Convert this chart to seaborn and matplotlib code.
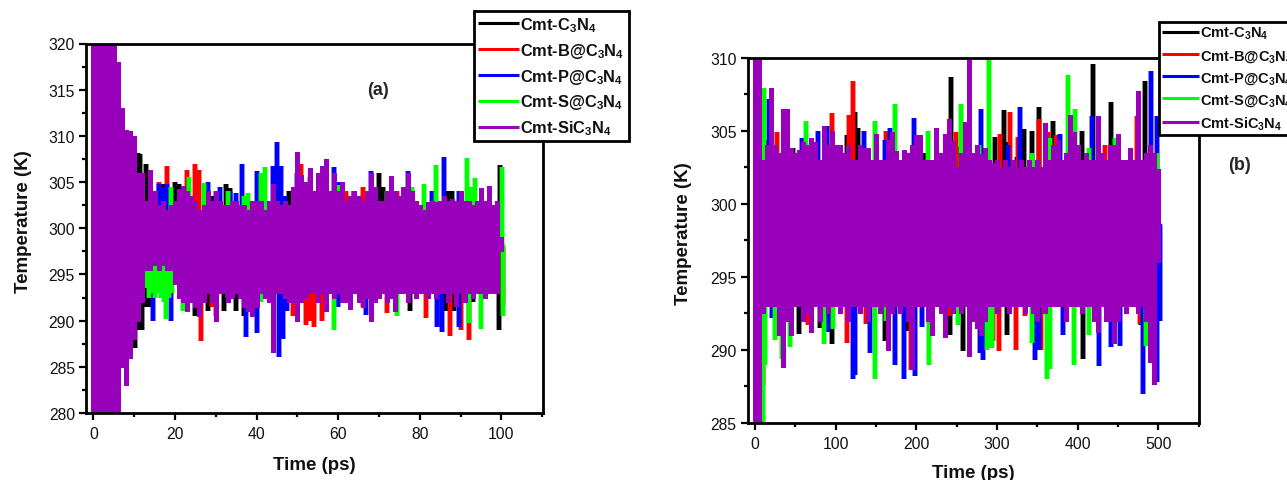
import numpy as np
import matplotlib
matplotlib.use("Agg")
import matplotlib.pyplot as plt
import seaborn as sns
from matplotlib.ticker import MultipleLocator

sns.set_theme(style="ticks")
plt.rcParams['font.family'] = ['Liberation Sans', 'DejaVu Sans']
plt.rcParams['mathtext.fontset'] = 'custom'
plt.rcParams['mathtext.bf'] = 'Liberation Sans:bold'
plt.rcParams['mathtext.default'] = 'bf'

W, H = 1287, 481

labels = ["Cmt-C$_3$N$_4$", "Cmt-B@C$_3$N$_4$", "Cmt-P@C$_3$N$_4$", "Cmt-S@C$_3$N$_4$", "Cmt-SiC$_3$N$_4$"]
colors = ["#000000", "#ff0000", "#0000ff", "#00ff00", "#9900bb"]

# panel (a), only the excursions that stick out of the purple band
a_black_t = [10, 10.7, 11, 11.5, 12, 13, 17, 20, 21, 29, 32.5, 33.5, 48, 70, 71, 87, 88, 99.7, 10.2, 11, 12, 13, 14, 25, 28, 32, 35, 37, 47, 77.7, 86.5, 88.5, 93, 99.5]
a_black_T = [308, 307.5, 308.2, 308, 306, 307, 304.8, 305, 304.8, 303.5, 304.8, 304.4, 304, 306, 304.5, 304, 304, 306.8, 287, 289, 289, 291.5, 291.5, 290.5, 291, 291, 291, 290.5, 291.5, 291, 291, 291, 292, 289]
a_red_t = [16, 18, 23, 25, 26, 51, 53, 60, 62, 64, 66, 74.5, 26.5, 29, 30, 49, 52, 53, 54, 56, 66, 72, 81.5, 87.5, 90, 92, 100.3]
a_red_T = [305, 306.7, 306.3, 307, 306.3, 307, 305.5, 304.5, 304, 304, 304.5, 304, 287.8, 291.5, 290.5, 290.5, 289.5, 290, 289.3, 290, 291.5, 290.8, 290.3, 288.3, 289, 287.9, 291.7]
a_blue_t = [16, 17, 18, 28, 30, 31, 33.5, 35, 36.5, 40, 44, 45, 46, 47, 50, 59, 60, 64, 68, 77, 83, 86, 89.5, 14.5, 19, 37.5, 40, 45.5, 46.5, 47.5, 60, 66.8, 84.3, 85.4, 89.6]
a_blue_T = [304.8, 304.5, 304.8, 305, 304, 304.5, 304, 303.8, 307, 306.2, 306.7, 309.3, 306.7, 303.5, 306, 306.6, 305, 304, 306.2, 306.2, 304, 307.7, 304, 290, 290, 288.2, 288.7, 286.1, 288, 291, 291.5, 290.6, 289.3, 288.8, 289.3]
a_green_t = [19, 23.5, 27, 33, 37, 38, 41, 42, 60, 72, 78, 81, 84, 91.6, 92.5, 93.5, 100.2, 13, 13.7, 14.4, 15.1, 15.8, 16.5, 17.2, 17.8, 18.5, 19.2, 22, 26, 33, 41, 59, 74.5, 92, 95, 100.3]
a_green_T = [304.5, 305.6, 304.9, 304, 303.5, 303.8, 306, 306.6, 304.7, 304, 304.5, 304.8, 306.9, 307.6, 304.5, 305.4, 306.6, 293.5, 292.5, 293, 292.5, 293, 292.5, 292, 290.2, 292.5, 293, 291, 292, 292.5, 292, 289, 290.5, 289.7, 289.1, 290.5]

a_time = list(range(0, 101))
a_si_hi = [330, 330, 330, 330, 330, 330, 318, 313, 310.6, 310.5,
           310, 306, 306, 303, 306.3, 304, 302.5, 303, 302, 302.5,
           303, 304.3, 304.6, 304, 303.5, 303, 302, 302.5, 304, 303,
           304, 303, 302.5, 302.5, 303, 303, 302.5, 302.5, 302, 303,
           303, 303, 302, 303, 304.8, 303, 302.5, 303, 302.5, 304.5,
           308.3, 305.8, 305, 306.5, 304, 306, 306.7, 307.5, 304, 306,
           304, 305, 303, 303.5, 304, 303.5, 303, 304, 306, 304.5,
           303, 303, 304, 305.7, 304, 303.5, 304.5, 306, 304, 303,
           302.5, 302, 302.8, 303, 302.8, 303, 303.5, 303, 303.2, 303,
           304, 303, 303, 302.5, 303, 304.4, 303, 304.6, 302.5, 303,
           299]
a_si_lo = [270, 270, 270, 270, 270, 270, 270, 285, 283, 286,
           288, 290, 292, 295.5, 295.5, 296, 295.5, 296, 295.5, 295.5,
           294, 292.5, 292, 291, 292, 291.5, 290.5, 292, 293, 292,
           290, 293, 293, 292, 292.5, 293, 292.5, 291.5, 291, 290.5,
           291.5, 293, 292.5, 292, 286.6, 293, 293, 292.5, 292, 292,
           290, 292, 292.5, 293, 293, 292, 293, 291, 293, 292.5,
           293, 292, 292, 291.3, 293, 292, 291.5, 292.5, 290, 292,
           292.5, 293, 292, 292.5, 291, 293, 293, 292, 293, 292.5,
           293, 293, 292.5, 293, 292.5, 293, 293, 292, 293, 291.6,
           293, 292, 293, 292.5, 293, 293, 292.5, 293, 293, 293,
           297.5]

# panel (b)
b_black_t = [13, 26, 47, 114, 124, 128, 209, 233, 242.6, 250, 297, 309, 312.5, 325, 333.6, 343, 352, 370, 405, 419, 441, 484, 54, 64, 80.6, 96, 161, 188, 242, 258, 313, 407, 478]
b_black_T = [304.4, 303.8, 303.8, 304.7, 306.3, 305.2, 303.5, 303.1, 308.7, 303.9, 304.6, 306.4, 304.2, 303.2, 305.1, 305, 306.6, 305.7, 305, 309.6, 307, 308.4, 291.1, 292.2, 291.5, 290.4, 290.6, 291.3, 291, 289.9, 291, 289.4, 291.7]
b_red_t = [27, 95, 117, 122, 162, 249, 304, 316, 326, 352, 363, 373, 434, 473, 10, 29, 66, 114, 138, 194, 242, 295, 302, 323, 335, 354, 477]
b_red_T = [304.9, 306.2, 306.1, 308.4, 305, 304.9, 304.8, 306.3, 304.6, 305.8, 304.9, 304.7, 304, 306, 287.5, 293, 291.7, 290.5, 291.8, 288.6, 292.3, 290.6, 289.9, 290, 292.3, 290, 291.8]
b_blue_t = [18, 58, 78, 89, 135, 161, 167, 197, 280, 314, 329, 377.6, 418, 491, 498, 21, 91, 121, 124, 143, 174, 185, 198, 207, 279, 283, 347, 351.5, 382, 426, 441.5, 452, 481, 498, 502]
b_blue_T = [307.2, 304.5, 305, 305.3, 305, 304.4, 305.2, 305.9, 306.5, 304, 306.6, 304.8, 306, 309.1, 306, 292.2, 291.2, 288, 288.3, 289.8, 289, 288, 288.2, 291.6, 289.8, 289.3, 289.3, 290, 291, 288.9, 290.2, 290.3, 287, 287.8, 292]
b_green_t = [11, 16, 63, 149, 173, 215, 255, 260, 278, 289.6, 343, 366, 387.5, 397, 414, 446.6, 498, 10, 12, 25, 34, 43, 85.5, 97, 149, 163, 216, 252, 288, 294, 343, 362, 366, 395.5, 414, 485]
b_green_T = [307.9, 304, 305.7, 305.7, 306.8, 305, 306.8, 305.5, 304, 310, 303.5, 304.5, 308.8, 306.5, 303.8, 304.5, 303.5, 285, 289, 290.7, 289.4, 290.2, 290.4, 291.4, 288, 292, 289, 291.7, 290, 290.1, 290.5, 288, 288.7, 289, 291, 290.3]

b_time = list(range(0, 505, 5))
b_si_hi = [312, 312, 303, 304, 307.9, 304, 303.5, 306.5, 306.5, 303.8,
           303.5, 303.7, 304.2, 304, 304.5, 304.2, 303, 305.3, 304, 305,
           304, 304, 303.5, 304, 303, 303, 304, 303.8, 303.8, 303,
           304.8, 303, 303, 304.4, 304.9, 303.6, 303, 303.7, 303.5, 304,
           304.7, 304.7, 303, 303, 303, 305.2, 303.5, 304.8, 305.8, 304.3,
           302.5, 303.5, 305.6, 310.5, 303.5, 304, 303.4, 303.8, 303, 302.8,
           303, 302.5, 303, 302.5, 303, 302.4, 303, 302.5, 303, 302.5,
           303, 302.5, 305.5, 303, 304, 304.4, 303, 303.5, 306.1, 304.9,
           304, 303, 303.5, 303, 303, 306, 303.5, 303, 304, 304,
           304.8, 303, 303, 303.8, 303, 307.7, 303, 303.5, 304, 303.5,
           302.4]
b_si_lo = [270, 270, 292.5, 293, 293, 293, 291, 288.8, 292, 291,
           293, 293, 292, 292.5, 291.2, 293, 292, 293, 292.5, 293,
           293, 292.5, 293, 292, 293, 293, 292.5, 293, 292, 293,
           293, 292.5, 293, 290, 292.5, 293, 292.5, 293, 292, 288.7,
           293, 293, 293, 292, 291, 293, 292.5, 290.9, 293, 292.5,
           293, 292.5, 293, 289.6, 292, 291.5, 291, 292, 293, 293,
           292.5, 293, 293, 292.5, 293, 293, 293, 292.5, 293, 292.5,
           292, 293, 292.5, 293, 293, 293, 293, 292, 293, 293,
           293, 292.5, 293, 293, 292, 291.2, 293, 292, 292, 290.5,
           292, 293, 292.5, 293, 293, 292.5, 293, 292, 289.2, 287.7,
           296]


def spikes(t, temp, base):
    # every reading is drawn as a bar out of the band centre
    x = np.repeat(t, 3)
    y = np.column_stack([np.full(len(temp), base), temp, np.full(len(temp), base)]).ravel()
    return x, y


def band(t, hi, lo, base):
    # same idea, but each bar goes up and down, joined through the centre
    x = np.repeat(t, 4)
    mid = np.full(len(hi), base)
    y = np.column_stack([mid, hi, lo, mid]).ravel()
    return x, y


def draw(ax, series, t, hi, lo, base):
    for (st, sT), lab, col in zip(series, labels, colors):
        x, y = spikes(st, sT, base)
        sns.lineplot(x=x, y=y, sort=False, estimator=None, color=col, lw=3.2, label=lab, ax=ax,
                     solid_capstyle="butt", solid_joinstyle="miter")
    x, y = band(t, hi, lo, base)
    sns.lineplot(x=x, y=y, sort=False, estimator=None, color=colors[4], lw=3.6, label=labels[4], ax=ax,
                 solid_capstyle="butt", solid_joinstyle="miter")


def style(ax, xlim, ylim, xmaj, ymaj):
    ax.set_xlim(*xlim)
    ax.set_ylim(*ylim)
    ax.xaxis.set_major_locator(MultipleLocator(xmaj))
    ax.xaxis.set_minor_locator(MultipleLocator(xmaj / 2))
    ax.yaxis.set_major_locator(MultipleLocator(ymaj))
    ax.yaxis.set_minor_locator(MultipleLocator(ymaj / 2))
    ax.tick_params(which="major", length=5, width=1.6, labelsize=11.3, color="black", labelcolor="#111111", pad=3)
    ax.tick_params(which="minor", length=3, width=1.6, color="black")
    ax.tick_params(axis="x", which="major", pad=4.5)
    for s in ax.spines.values():
        s.set_visible(True)
        s.set_linewidth(2.0)
        s.set_color("black")
    ax.set_xlabel("Time (ps)", fontsize=13.5, fontweight="bold", color="#111111")
    ax.set_ylabel("Temperature (K)", fontsize=13.5, fontweight="bold", color="#111111", y=0.52)


def box(left, top, right, bottom):
    return [left / W, 1 - bottom / H, (right - left) / W, (bottom - top) / H]


fig = plt.figure(figsize=(W / 100, H / 100), dpi=100)

ax1 = fig.add_axes(box(86, 44.5, 543, 414))
draw(ax1, [(a_black_t, a_black_T), (a_red_t, a_red_T), (a_blue_t, a_blue_T), (a_green_t, a_green_T)],
     a_time, a_si_hi, a_si_lo, 298)
style(ax1, (-1.8, 110.2), (280, 320), 20, 5)
ax1.xaxis.labelpad = 11
ax1.yaxis.labelpad = 12
ax1.text(69.8, 315, "(a)", fontsize=13, fontweight="bold", ha="center", va="center")

ax2 = fig.add_axes(box(747.7, 58.7, 1198.7, 424))
draw(ax2, [(b_black_t, b_black_T), (b_red_t, b_red_T), (b_blue_t, b_blue_T), (b_green_t, b_green_T)],
     b_time, b_si_hi, b_si_lo, 298.5)
style(ax2, (-9, 550), (285, 310), 100, 5)
ax2.xaxis.labelpad = 9
ax2.yaxis.labelpad = 13
ax2.text(600, 302.7, "(b)", fontsize=13, fontweight="bold", ha="center", va="center", clip_on=False)

for ax, x0, y0, fs, sp, pad in [(ax1, 474, 12, 11.8, 0.42, 0.25), (ax2, 1159.3, 23, 10.5, 0.44, 0.2)]:
    leg = ax.legend(loc="upper left", bbox_to_anchor=(x0 / W, 1 - y0 / H), bbox_transform=fig.transFigure,
                    borderaxespad=0, fancybox=False, framealpha=1, edgecolor="black", fontsize=fs,
                    handlelength=2.5, handletextpad=0.08, labelspacing=sp, borderpad=pad)
    leg.get_frame().set_linewidth(2.0)
    for line in leg.get_lines():
        line.set_linewidth(2.2)
    for txt in leg.get_texts():
        txt.set_fontweight("bold")
        txt.set_color("#111111")

fig.savefig("out.png", dpi=100)
